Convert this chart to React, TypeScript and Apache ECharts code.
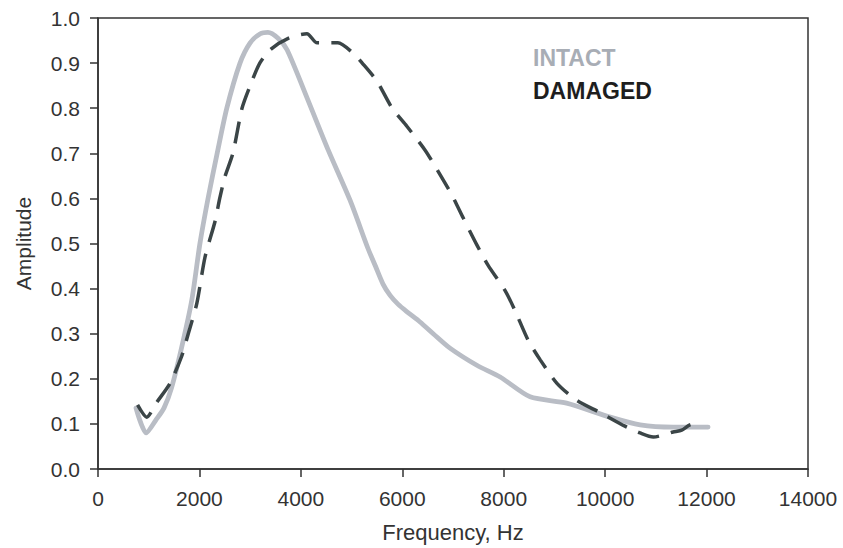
import React, { useEffect, useRef } from "react";
import * as echarts from "echarts";

const xTicks = [0, 2000, 4000, 6000, 8000, 10000, 12000, 14000];
const yTicks = [0, 0.1, 0.2, 0.3, 0.4, 0.5, 0.6, 0.7, 0.8, 0.9, 1.0];

const intactFreq = [750, 950, 1150, 1300, 1450, 1650, 1850, 2010, 2170, 2350, 2540, 2800, 3000, 3200, 3350, 3550, 3730, 4140, 4540, 4970, 5320, 5470, 5620, 5760, 5920, 6100, 6350, 6610, 6940, 7470, 7930, 8520, 9240, 10100, 10690, 11340, 12030];
const intactAmp = [0.135, 0.08, 0.11, 0.135, 0.18, 0.27, 0.375, 0.5, 0.6, 0.7, 0.8, 0.9, 0.945, 0.965, 0.968, 0.955, 0.929, 0.818, 0.707, 0.596, 0.49, 0.45, 0.41, 0.385, 0.365, 0.348, 0.326, 0.30, 0.268, 0.23, 0.204, 0.16, 0.146, 0.115, 0.098, 0.093, 0.093];

const damagedFreq = [780, 960, 1160, 1420, 1650, 1780, 1950, 2110, 2310, 2400, 2500, 2660, 2840, 3000, 3190, 3400, 3750, 4120, 4320, 4730, 5030, 5210, 5500, 5800, 6090, 6450, 6690, 6980, 7200, 7470, 7690, 8030, 8220, 8480, 8720, 9050, 9430, 9900, 10390, 10690, 10950, 11340, 11510, 11670, 11910];
const damagedAmp = [0.142, 0.115, 0.148, 0.19, 0.25, 0.30, 0.368, 0.47, 0.55, 0.60, 0.647, 0.70, 0.80, 0.85, 0.90, 0.93, 0.955, 0.965, 0.945, 0.945, 0.922, 0.90, 0.86, 0.80, 0.76, 0.707, 0.663, 0.607, 0.557, 0.497, 0.452, 0.395, 0.352, 0.286, 0.242, 0.19, 0.153, 0.125, 0.095, 0.08, 0.071, 0.082, 0.086, 0.098, 0.104];

const seriesNames = ["INTACT", "DAMAGED"];
const xTitle = "Frequency, Hz";
const yTitle = "Amplitude";

const INTACT_COLOR = "#b9bdc5";
const DAMAGED_COLOR = "#3b4547";
const FONT = "'Liberation Sans', Arial, sans-serif";

export default function App() {
  const ref = useRef<HTMLDivElement>(null);
  useEffect(() => {
    if (!ref.current) return;
    const chart = echarts.init(ref.current, undefined, { renderer: "svg" });
    const zip = (xs: number[], ys: number[]) => xs.map((x, i) => [x, ys[i]]);
    chart.setOption({
      animation: false,
      backgroundColor: "#ffffff",
      textStyle: { fontFamily: FONT },
      grid: {
        left: 98,
        top: 18,
        right: 35,
        bottom: 79,
        show: true,
        borderColor: "#333",
        borderWidth: 1.5,
        containLabel: false,
      },
      xAxis: {
        type: "value",
        min: xTicks[0],
        max: xTicks[xTicks.length - 1],
        interval: xTicks[1] - xTicks[0],
        name: xTitle,
        nameLocation: "middle",
        nameGap: 52,
        nameTextStyle: { fontSize: 22, color: "#333", fontFamily: FONT },
        axisLine: { show: true, onZero: false, lineStyle: { color: "#333", width: 1.5 } },
        axisTick: { show: true, inside: false, length: 8, lineStyle: { color: "#333", width: 1.5 } },
        axisLabel: { fontSize: 21, color: "#333", margin: 19, fontFamily: FONT, formatter: (v: number) => String(v) },
        splitLine: { show: false },
      },
      yAxis: {
        type: "value",
        min: yTicks[0],
        max: yTicks[yTicks.length - 1],
        interval: 0.1,
        name: yTitle,
        nameLocation: "middle",
        nameGap: 64,
        nameRotate: 90,
        nameTextStyle: { fontSize: 21, color: "#333", fontFamily: FONT },
        axisLine: { show: true, lineStyle: { color: "#333", width: 1.5 } },
        axisTick: { show: true, inside: false, length: 8, lineStyle: { color: "#333", width: 1.5 } },
        axisLabel: {
          fontSize: 21,
          color: "#333",
          margin: 18,
          fontFamily: FONT,
          formatter: (v: number) => v.toFixed(1),
        },
        splitLine: { show: false },
      },
      series: [
        {
          name: seriesNames[0],
          type: "line",
          data: zip(intactFreq, intactAmp),
          smooth: 0.25,
          showSymbol: false,
          symbol: "none",
          lineStyle: { color: INTACT_COLOR, width: 4.8, cap: "round", join: "round" },
          z: 2,
        },
        {
          name: seriesNames[1],
          type: "line",
          data: zip(damagedFreq, damagedAmp),
          smooth: 0.25,
          showSymbol: false,
          symbol: "none",
          lineStyle: { color: DAMAGED_COLOR, width: 3.5, type: [22, 12], cap: "butt" },
          z: 3,
        },
      ],
      graphic: [
        {
          type: "text",
          left: 533,
          top: 46,
          style: { text: seriesNames[0], fill: "#a8adb5", font: `bold 23px ${FONT}` },
        },
        {
          type: "text",
          left: 533,
          top: 79,
          style: { text: seriesNames[1], fill: "#1e1e1e", font: `bold 23px ${FONT}` },
        },
      ],
    });
    return () => chart.dispose();
  }, []);
  return (
    <div
      ref={ref}
      style={{ position: "fixed", left: 0, top: 0, width: 843, height: 548, background: "#fff" }}
    />
  );
}
